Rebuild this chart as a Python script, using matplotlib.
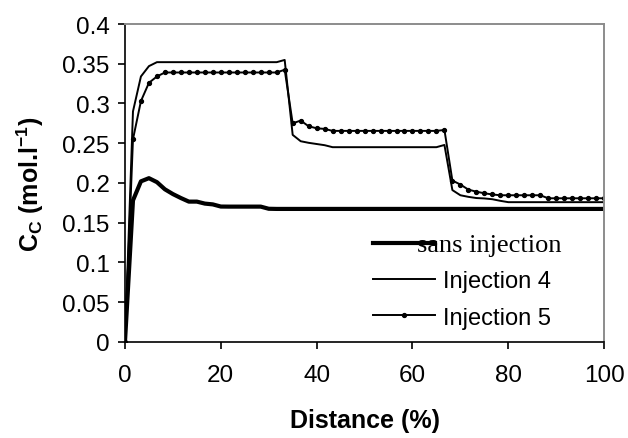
import matplotlib
matplotlib.use("Agg")
import matplotlib.pyplot as plt
from matplotlib.transforms import Affine2D

# Concentration profiles along the column
distance = [0, 1.67, 3.33, 5, 6.67, 8.33, 10, 11.67, 13.33, 15,
            16.67, 18.33, 20, 21.67, 23.33, 25, 26.67, 28.33, 30, 31.67,
            33.33, 35, 36.67, 38.33, 40, 41.67, 43.33, 45, 46.67, 48.33,
            50, 51.67, 53.33, 55, 56.67, 58.33, 60, 61.67, 63.33, 65,
            66.67, 68.33, 70, 71.67, 73.33, 75, 76.67, 78.33, 80, 81.67,
            83.33, 85, 86.67, 88.33, 90, 91.67, 93.33, 95, 96.67, 98.33, 100]

sans_injection = [0, 0.178, 0.202, 0.206, 0.201, 0.192, 0.186, 0.181, 0.1765, 0.1765,
                  0.174, 0.173, 0.1703, 0.1702, 0.1702, 0.1702, 0.1702, 0.1702, 0.1675, 0.1673,
                  0.1673, 0.1673, 0.1673, 0.1673, 0.1673, 0.1673, 0.1673, 0.1673, 0.1673, 0.1673,
                  0.1673, 0.1673, 0.1673, 0.1673, 0.1673, 0.1673, 0.1673, 0.1673, 0.1673, 0.1673,
                  0.1673, 0.1673, 0.1673, 0.1673, 0.1673, 0.1673, 0.1673, 0.1673, 0.1673, 0.1673,
                  0.1673, 0.1673, 0.1673, 0.1673, 0.1673, 0.1673, 0.1673, 0.1673, 0.1673, 0.1673,
                  0.1673]

injection_4 = [0, 0.29, 0.334, 0.347, 0.352, 0.352, 0.352, 0.352, 0.352, 0.352,
               0.352, 0.352, 0.352, 0.352, 0.352, 0.352, 0.352, 0.352, 0.352, 0.352,
               0.3548, 0.2605, 0.2525, 0.2505, 0.249, 0.2475, 0.245, 0.245, 0.245, 0.245,
               0.245, 0.245, 0.245, 0.245, 0.245, 0.245, 0.245, 0.245, 0.245, 0.245,
               0.2478, 0.191, 0.1845, 0.1825, 0.181, 0.1805, 0.1795, 0.1775, 0.1758, 0.1758,
               0.1758, 0.1758, 0.1758, 0.1758, 0.1758, 0.1758, 0.1758, 0.1758, 0.1758, 0.1758,
               0.1758]

injection_5 = [0, 0.255, 0.303, 0.326, 0.334, 0.339, 0.339, 0.339, 0.339, 0.339,
               0.339, 0.339, 0.339, 0.339, 0.339, 0.339, 0.339, 0.339, 0.339, 0.339,
               0.3425, 0.275, 0.2785, 0.2713, 0.2688, 0.268, 0.2655, 0.2655, 0.2655, 0.2655,
               0.2655, 0.2655, 0.2655, 0.2655, 0.2655, 0.2655, 0.2655, 0.2655, 0.2655, 0.2655,
               0.2667, 0.203, 0.198, 0.1916, 0.189, 0.187, 0.1855, 0.1845, 0.1845, 0.1845,
               0.1845, 0.1845, 0.1845, 0.1807, 0.1807, 0.1807, 0.1807, 0.1807, 0.1807, 0.1807,
               0.1807]

x_ticks = [0, 20, 40, 60, 80, 100]
y_ticks = [0, 0.05, 0.1, 0.15, 0.2, 0.25, 0.3, 0.35, 0.4]
y_tick_labels = ['0', '0.05', '0.1', '0.15', '0.2', '0.25', '0.3', '0.35', '0.4']

plt.rcParams['font.family'] = ['Liberation Sans', 'DejaVu Sans']
plt.rcParams['mathtext.fontset'] = 'custom'
plt.rcParams['mathtext.rm'] = 'Liberation Sans'
plt.rcParams['mathtext.bf'] = 'Liberation Sans:bold'

fig = plt.figure(figsize=(6.28, 4.39), dpi=100)
ax = fig.add_axes([0.199, 0.219, 0.763, 0.724])

ax.plot(distance, sans_injection, color='black', lw=3.0, label='sans injection',
        solid_joinstyle='round')
ax.plot(distance, injection_4, color='black', lw=1.4, label='Injection 4')
ax.plot(distance, injection_5, color='black', lw=1.4, marker='o', markersize=2.8,
        label='Injection 5')

ax.set_xlim(0, 100)
ax.set_ylim(0, 0.4)
ax.set_xticks(x_ticks)
ax.set_yticks(y_ticks)
ax.set_yticklabels(y_tick_labels)
ax.tick_params(axis='both', labelsize=17.5, length=5, width=1.2, direction='out')
ax.tick_params(axis='x', pad=11)
ax.tick_params(axis='y', pad=6)

for side in ['left', 'bottom']:
    ax.spines[side].set_color('black')
    ax.spines[side].set_linewidth(1.2)
for side in ['top', 'right']:
    ax.spines[side].set_color('#8c8c8c')
    ax.spines[side].set_linewidth(1.4)

ax.set_xlabel('Distance (%)', fontsize=18, fontweight='bold', labelpad=16)
ax.set_ylabel(r'C$_\mathbf{C}$ (mol.l$^\mathbf{-1}$)', fontsize=18, fontweight='bold',
              labelpad=12)

leg = ax.legend(loc='center left', bbox_to_anchor=(0.518, 0.19), frameon=False,
                fontsize=17, handlelength=2.6, handletextpad=0.35, labelspacing=0.6,
                borderpad=0, borderaxespad=0)
first = leg.get_texts()[0]
first.set_fontfamily('Liberation Serif')
first.set_fontsize(19)
# "sans injection" text sits over the end of its key in the original
first.set_transform(first.get_transform() + Affine2D().translate(-26, 0))

fig.savefig('out.png', dpi=100)
